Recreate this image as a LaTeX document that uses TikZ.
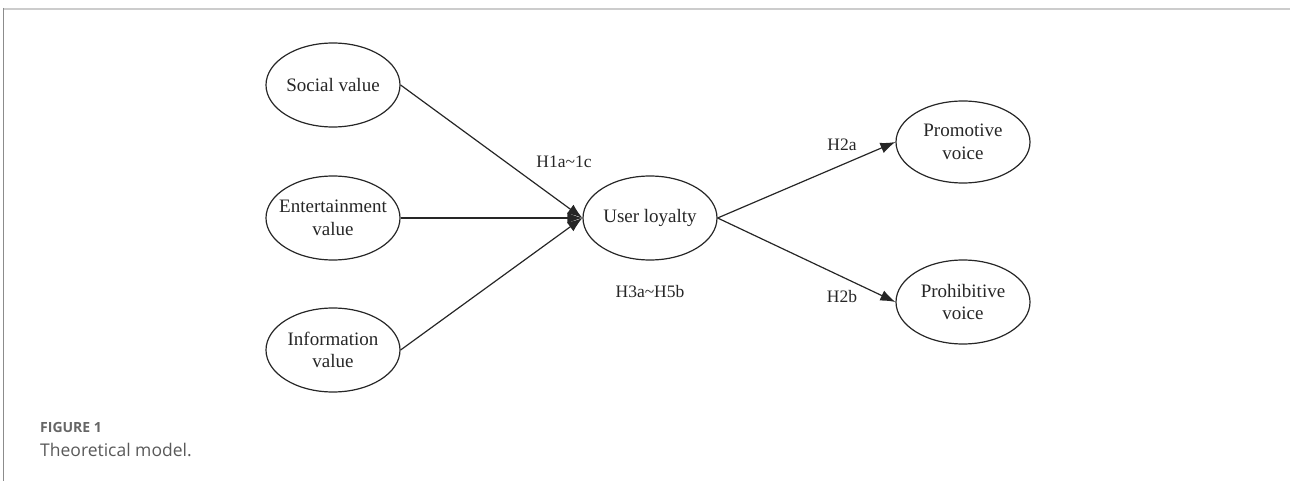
\documentclass[tikz,border=0pt]{standalone}
\usepackage{fontspec}
\setmainfont{Liberation Serif}
\newfontfamily\capfont{Open Sans}
\usetikzlibrary{shapes.geometric,arrows.meta}
\begin{document}
\begin{tikzpicture}[x=1pt,y=-1pt,
  var/.style={ellipse,draw=black!85,line width=1.2pt,minimum width=134pt,minimum height=84pt,inner xsep=-12pt,inner ysep=-12pt,align=center,font=\fontsize{19}{22.5}\selectfont,text=black!85},
  lbl/.style={font=\fontsize{17.5}{20}\selectfont,text=black!85,inner sep=0pt},
  conn/.style={draw=black!85,line width=1.2pt,-{Latex[length=15pt,width=11pt]}}]
\useasboundingbox (0,0) rectangle (1290,481);
\draw[black!20,line width=2pt] (3,9) -- (1290,9);
\draw[black!45,line width=1.2pt] (3.5,8) -- (3.5,481);
\node[var] (soc) at (333,85) {Social value};
\node[var] (ent) at (333,218) {Entertainment\\value};
\node[var] (inf) at (333,350) {Information\\value};
\node[var] (ul) at (650,218) {User loyalty};
\node[var,minimum height=82pt] (pro) at (963,142) {Promotive\\voice};
\node[var,minimum height=84pt] (phb) at (963,302) {Prohibitive\\voice};
\draw[conn] (soc.east) -- (ul.west);
\draw[conn] (ent.east) -- (ul.west);
\draw[conn] (inf.east) -- (ul.west);
\draw[conn] (ul.east) -- (pro.west);
\draw[conn] (ul.east) -- (phb.west);
\node[lbl] (l1) at (564,162) {H1a\textasciitilde1c};
\node[lbl] (l3) at (650,292) {H3a\textasciitilde H5b};
\node[lbl] (l2a) at (842,145) {H2a};
\node[lbl] (l2b) at (842,297) {H2b};
\node[anchor=west,inner sep=0pt,text=black!60,font=\capfont\bfseries\fontsize{14}{16}\selectfont] (fig) at (40,427) {FIGURE 1};
\node[anchor=west,inner sep=0pt,text=black!65,font=\capfont\fontsize{17.5}{20}\selectfont] (cap) at (40,450) {Theoretical model.};
\end{tikzpicture}
\end{document}
